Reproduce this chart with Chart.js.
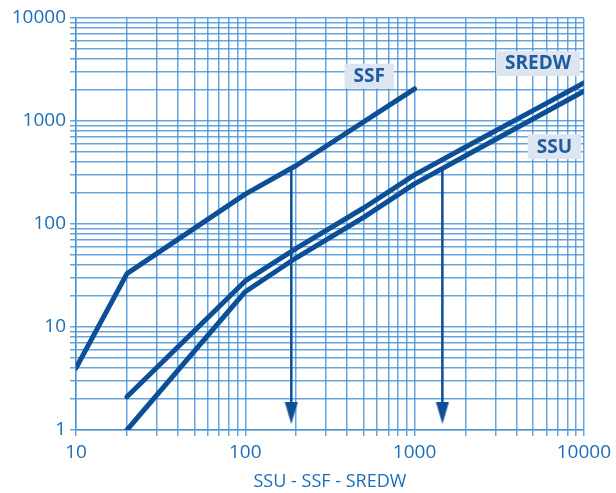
<!DOCTYPE html>
<html>
<head>
<meta charset="utf-8">
<script src="https://cdn.jsdelivr.net/npm/chart.js@4.4.1/dist/chart.umd.min.js"></script>
<style>
  html, body { margin: 0; padding: 0; background: #ffffff; }
  #wrap { width: 616px; height: 493px; }
</style>
</head>
<body>
<div id="wrap"><canvas id="grafico"></canvas></div>
<script>
// valores (log-log)
var xSSF = [10, 20, 100, 200, 1000];
var ySSF = [4, 33, 195, 370, 2050];

var xSREDW = [20, 100, 200, 500, 1000, 2000, 5000, 10000];
var ySREDW = [2.1, 28, 58, 143, 300, 560, 1260, 2340];

var xSSU = [20, 100, 200, 500, 1000, 2000, 5000, 10000];
var ySSU = [1, 22, 47, 116, 245, 460, 1045, 1950];

// setas
var xSeta1 = [187, 187];
var ySeta1 = [350, 1.46];
var xSeta2 = [1460, 1460];
var ySeta2 = [330, 1.46];

var xLabels = [10, 100, 1000, 10000];
var yLabels = [1, 10, 100, 1000, 10000];

var nomesSeries = ["SSF", "SREDW", "SSU"];
var posNomes = [[540, 2750], [5370, 3650], [6700, 570]];

var corLinha = "#0c4f96";
var corGrade = "rgba(64, 142, 212, 0.8)";
var corTexto = "#1b6db8";

function juntar(xs, ys) {
    var out = [];
    for (var i = 0; i < xs.length; i++) out.push({ x: xs[i], y: ys[i] });
    return out;
}

// ticks 1..9 por decada (so as posicoes da grade)
function ticksLog(min, max) {
    var t = [];
    for (var d = min; d < max; d *= 10) {
        for (var k = 1; k < 10; k++) t.push({ value: d * k });
    }
    t.push({ value: max });
    return t;
}

// ponta da seta
var ponta = document.createElement("canvas");
ponta.width = 14;
ponta.height = 22;
var pc = ponta.getContext("2d");
pc.fillStyle = corLinha;
pc.beginPath();
pc.moveTo(0.5, 0);
pc.lineTo(13.5, 0);
pc.lineTo(7, 22);
pc.closePath();
pc.fill();

const rotulos = {
    id: "rotulos",
    beforeDatasetsDraw(chart) {
        const ctx = chart.ctx;
        const sx = chart.scales.x;
        const sy = chart.scales.y;
        ctx.save();
        ctx.font = "bold 19px 'Open Sans', sans-serif";
        ctx.textAlign = "center";
        ctx.textBaseline = "middle";
        for (var i = 0; i < nomesSeries.length; i++) {
            var px = sx.getPixelForValue(posNomes[i][0]);
            var py = sy.getPixelForValue(posNomes[i][1]);
            var w = ctx.measureText(nomesSeries[i]).width + 18;
            ctx.fillStyle = "#dde6f0";
            ctx.fillRect(px - w / 2, py - 12, w, 25);
            ctx.fillStyle = "#1d5c9e";
            ctx.fillText(nomesSeries[i], px, py + 1);
        }
        ctx.restore();
    }
};

var linhaBase = {
    borderColor: corLinha,
    borderWidth: 5,
    pointRadius: 0,
    fill: false,
    tension: 0,
    borderCapStyle: "round",
    borderJoinStyle: "round"
};

new Chart(document.getElementById("grafico"), {
    type: "line",
    data: {
        datasets: [
            Object.assign({ label: "SSF", data: juntar(xSSF, ySSF) }, linhaBase),
            Object.assign({ label: "SREDW", data: juntar(xSREDW, ySREDW) }, linhaBase),
            Object.assign({ label: "SSU", data: juntar(xSSU, ySSU) }, linhaBase),
            {
                label: "seta1", data: juntar(xSeta1, ySeta1),
                borderColor: corLinha, borderWidth: 2.5,
                pointStyle: ponta, pointRadius: [0, 8], pointHoverRadius: 0
            },
            {
                label: "seta2", data: juntar(xSeta2, ySeta2),
                borderColor: corLinha, borderWidth: 2.5,
                pointStyle: ponta, pointRadius: [0, 8], pointHoverRadius: 0
            }
        ]
    },
    options: {
        responsive: true,
        maintainAspectRatio: false,
        animation: false,
        events: [],
        layout: { padding: { top: 18, right: 30, left: 0, bottom: 0 } },
        plugins: {
            legend: { display: false },
            tooltip: { enabled: false }
        },
        scales: {
            x: {
                type: "logarithmic",
                min: 10,
                max: 10000,
                afterBuildTicks: function (s) { s.ticks = ticksLog(10, 10000); },
                afterFit: function (s) { s.height = 63; },
                grid: { color: corGrade, lineWidth: 1.5, tickLength: 6 },
                border: { color: corGrade, width: 1.5 },
                ticks: {
                    autoSkip: false,
                    maxRotation: 0,
                    padding: 5,
                    color: corTexto,
                    font: { family: "'Open Sans', sans-serif", size: 19 },
                    callback: function (v) { return xLabels.indexOf(v) >= 0 ? String(v) : ""; }
                },
                title: {
                    display: true,
                    text: "SSU - SSF - SREDW",
                    color: corTexto,
                    font: { family: "'Open Sans', sans-serif", size: 18 },
                    padding: { top: 4, bottom: 0 }
                }
            },
            y: {
                type: "logarithmic",
                min: 1,
                max: 10000,
                afterBuildTicks: function (s) { s.ticks = ticksLog(1, 10000); },
                afterFit: function (s) { s.width = 76; },
                grid: { color: corGrade, lineWidth: 1.5, tickLength: 6 },
                border: { color: corGrade, width: 1.5 },
                ticks: {
                    autoSkip: false,
                    padding: 4,
                    color: corTexto,
                    font: { family: "'Open Sans', sans-serif", size: 19 },
                    callback: function (v) { return yLabels.indexOf(v) >= 0 ? String(v) : ""; }
                }
            }
        }
    },
    plugins: [rotulos]
});
</script>
</body>
</html>
